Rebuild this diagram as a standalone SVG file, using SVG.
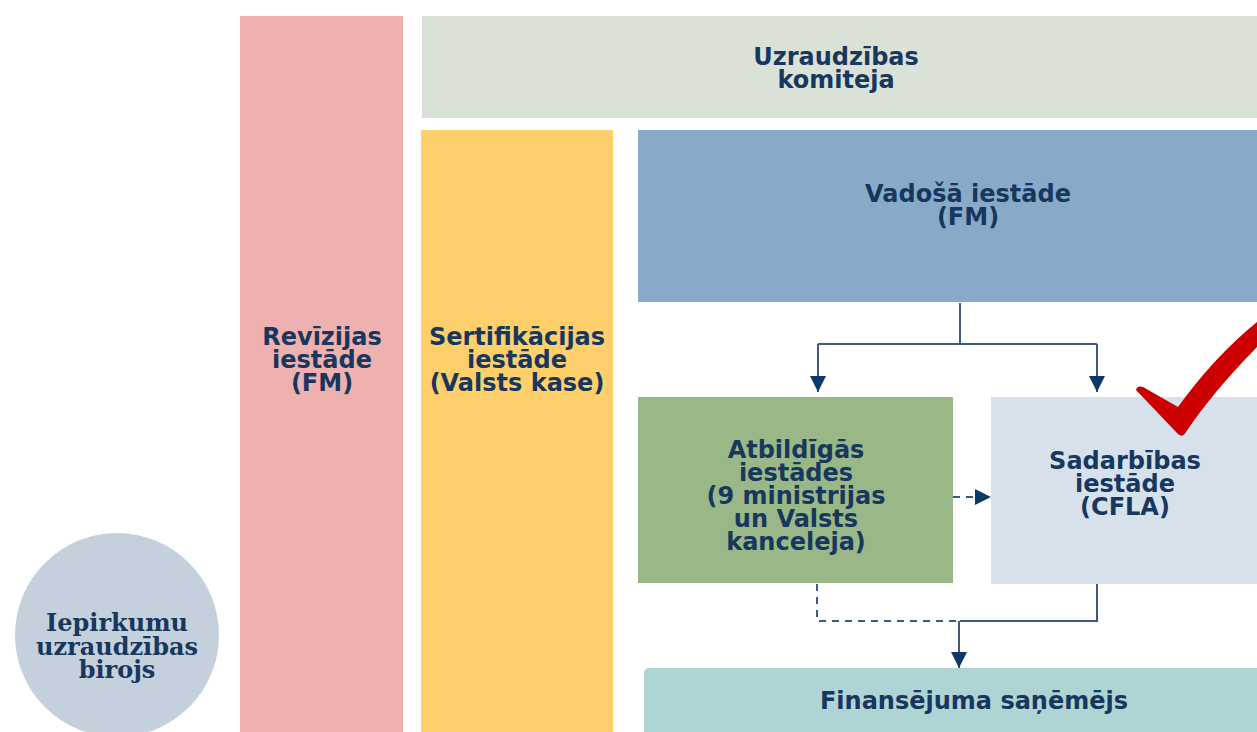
<svg xmlns="http://www.w3.org/2000/svg" width="1257" height="732" viewBox="0 0 1257 732">
<defs>
<style>
.t{font-family:"DejaVu Sans",Verdana,sans-serif;font-weight:bold;font-size:24px;fill:#17375e;text-anchor:middle}
.s{font-family:"DejaVu Serif",Georgia,serif;font-weight:bold;font-size:24px;fill:#17375e;text-anchor:middle}
.c{fill:none;stroke:#3d5a80;stroke-width:2}
.d{stroke-dasharray:7,6}
</style>
<marker id="ah" viewBox="0 0 16 16" refX="16" refY="8" markerWidth="16" markerHeight="16" markerUnits="userSpaceOnUse" orient="auto">
<path d="M0,0 L16,8 L0,16 Z" fill="#0d3966"/>
</marker>
</defs>
<rect width="1257" height="732" fill="#ffffff"/>
<g id="revizijas">
<rect x="240" y="16" width="163" height="716" fill="#efb0b0"/>
<text class="t" x="322" y="345">Revīzijas</text>
<text class="t" x="322" y="368">iestāde</text>
<text class="t" x="322" y="391">(FM)</text>
</g>
<g id="uzraudzibas-komiteja">
<rect x="422" y="16" width="835" height="102" fill="#dae2d8"/>
<text class="t" x="836" y="65">Uzraudzības</text>
<text class="t" x="836" y="88">komiteja</text>
</g>
<g id="sertifikacijas">
<rect x="421" y="130" width="192" height="602" fill="#fecf6a"/>
<text class="t" x="517" y="345">Sertifikācijas</text>
<text class="t" x="517" y="368">iestāde</text>
<text class="t" x="517" y="391">(Valsts kase)</text>
</g>
<g id="vadosa">
<rect x="638" y="130" width="619" height="172" fill="#88aac8"/>
<text class="t" x="968" y="202">Vadošā iestāde</text>
<text class="t" x="968" y="225">(FM)</text>
</g>
<g id="atbildigas">
<rect x="638" y="397" width="315" height="186" fill="#9ab887"/>
<text class="t" x="796" y="458">Atbildīgās</text>
<text class="t" x="796" y="481">iestādes</text>
<text class="t" x="796" y="504">(9 ministrijas</text>
<text class="t" x="796" y="527">un Valsts</text>
<text class="t" x="796" y="550">kanceleja)</text>
</g>
<g id="sadarbibas">
<rect x="991" y="397" width="266" height="187" fill="#d6e1ec"/>
<text class="t" x="1125" y="469">Sadarbības</text>
<text class="t" x="1125" y="492">iestāde</text>
<text class="t" x="1125" y="515">(CFLA)</text>
</g>
<g id="finansejuma">
<rect x="644" y="668" width="630" height="80" rx="5" fill="#aed4d3"/>
<text class="t" x="974" y="709">Finansējuma saņēmējs</text>
</g>
<g id="iepirkumu">
<circle cx="117" cy="635" r="102" fill="#c4d0dc"/>
<text class="s" x="117" y="631">Iepirkumu</text>
<text class="s" x="117" y="655">uzraudzības</text>
<text class="s" x="117" y="678">birojs</text>
</g>
<g id="check">
<path d="M1136,390 Q1137,385 1143,387 L1178,407 Q1214,357 1257,322 L1257,347 Q1212,393 1186,432 Q1182,439 1177,433 Z" fill="#cc0000"/>
</g>
<g id="connectors">
<polyline class="c" points="960,303 960,344"/>
<polyline class="c" points="818,344 1097,344"/>
<line class="c" x1="818" y1="344" x2="818" y2="392" marker-end="url(#ah)"/>
<line class="c" x1="1097" y1="344" x2="1097" y2="392" marker-end="url(#ah)"/>
<line class="c d" x1="953" y1="497" x2="991" y2="497" marker-end="url(#ah)"/>
<polyline class="c d" points="817,584 817,621 960,621"/>
<polyline class="c" points="1097,584 1097,621 960,621"/>
<line class="c" x1="959" y1="621" x2="959" y2="668" marker-end="url(#ah)"/>
</g>
</svg>
